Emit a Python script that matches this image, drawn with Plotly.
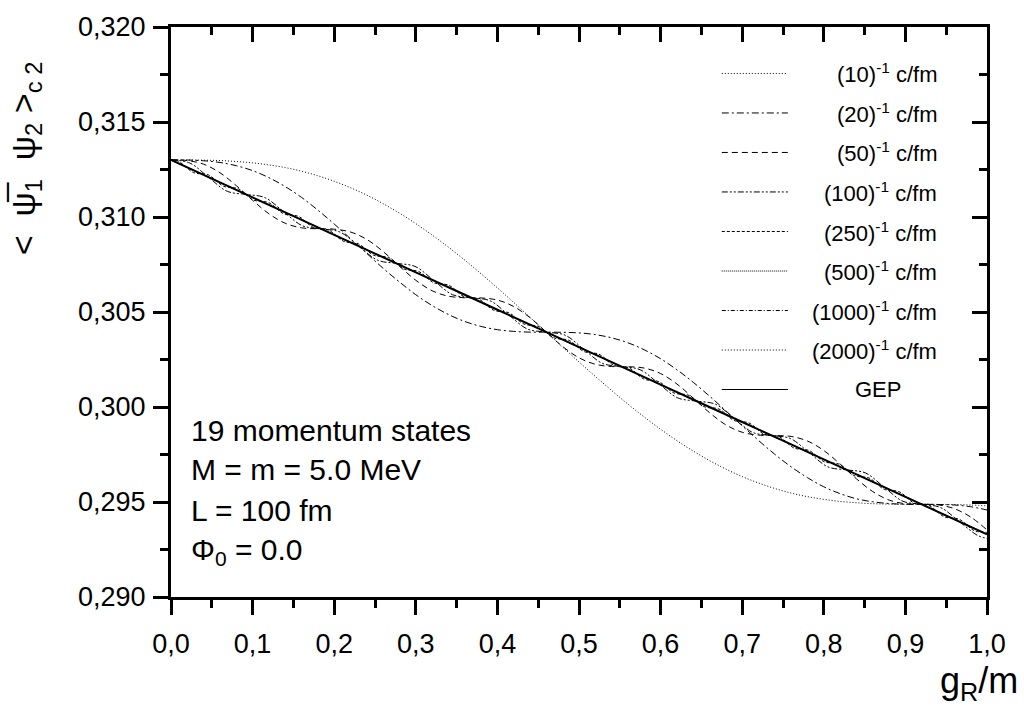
import plotly.graph_objects as go

# coupling axis g_R/m (shared grid for the slowly varying curves)
g_grid = [0.00, 0.02, 0.04, 0.06, 0.08, 0.10, 0.12, 0.14, 0.16, 0.18,
          0.20, 0.22, 0.24, 0.26, 0.28, 0.30, 0.32, 0.34, 0.36, 0.38,
          0.40, 0.42, 0.44, 0.46, 0.48, 0.50, 0.52, 0.54, 0.56, 0.58,
          0.60, 0.62, 0.64, 0.66, 0.68, 0.70, 0.72, 0.74, 0.76, 0.78,
          0.80, 0.82, 0.84, 0.86, 0.88, 0.90, 0.92, 0.94, 0.96, 0.98, 1.00]

cond_10 = [0.31300, 0.31300, 0.31299, 0.31297, 0.31292, 0.31285, 0.31274, 0.31260, 0.31241, 0.31217,
           0.31188, 0.31154, 0.31115, 0.31070, 0.31020, 0.30965, 0.30905, 0.30841, 0.30773, 0.30701,
           0.30627, 0.30550, 0.30472, 0.30394, 0.30315, 0.30237, 0.30161, 0.30087, 0.30015, 0.29947,
           0.29883, 0.29823, 0.29768, 0.29718, 0.29673, 0.29634, 0.29600, 0.29571, 0.29547, 0.29528,
           0.29514, 0.29503, 0.29496, 0.29491, 0.29489, 0.29488, 0.29488, 0.29487, 0.29487, 0.29484, 0.29480]

cond_20 = [0.31300, 0.31300, 0.31296, 0.31287, 0.31270, 0.31244, 0.31207, 0.31160, 0.31103, 0.31036,
           0.30963, 0.30886, 0.30808, 0.30730, 0.30658, 0.30591, 0.30534, 0.30487, 0.30450, 0.30424,
           0.30407, 0.30398, 0.30394, 0.30394, 0.30393, 0.30390, 0.30381, 0.30364, 0.30338, 0.30301,
           0.30254, 0.30196, 0.30130, 0.30057, 0.29980, 0.29901, 0.29824, 0.29751, 0.29685, 0.29628,
           0.29580, 0.29544, 0.29517, 0.29501, 0.29492, 0.29488, 0.29488, 0.29487, 0.29484, 0.29475, 0.29458]

cond_50 = [0.31300, 0.31297, 0.31278, 0.31233, 0.31165, 0.31088, 0.31017, 0.30967, 0.30943, 0.30938,
           0.30936, 0.30921, 0.30882, 0.30818, 0.30741, 0.30667, 0.30612, 0.30583, 0.30575, 0.30574,
           0.30563, 0.30529, 0.30470, 0.30394, 0.30318, 0.30259, 0.30225, 0.30213, 0.30212, 0.30205,
           0.30176, 0.30121, 0.30047, 0.29970, 0.29906, 0.29867, 0.29852, 0.29850, 0.29845, 0.29821,
           0.29771, 0.29700, 0.29622, 0.29555, 0.29510, 0.29491, 0.29488, 0.29485, 0.29465, 0.29421, 0.29353]

g_100 = [0.000, 0.023, 0.046, 0.069, 0.092, 0.115, 0.138, 0.161, 0.184, 0.207,
         0.230, 0.253, 0.276, 0.299, 0.322, 0.345, 0.368, 0.391, 0.414, 0.437,
         0.460, 0.483, 0.506, 0.529, 0.552, 0.575, 0.598, 0.621, 0.644, 0.667,
         0.690, 0.713, 0.736, 0.759, 0.782, 0.805, 0.828, 0.851, 0.874, 0.897,
         0.920, 0.943, 0.966, 0.989, 1.000]
cond_100 = [0.31300, 0.31284, 0.31209, 0.31135, 0.31119, 0.31102, 0.31028, 0.30954, 0.30938, 0.30921,
            0.30847, 0.30773, 0.30756, 0.30740, 0.30666, 0.30591, 0.30575, 0.30559, 0.30484, 0.30410,
            0.30394, 0.30378, 0.30303, 0.30229, 0.30213, 0.30196, 0.30122, 0.30048, 0.30031, 0.30015,
            0.29941, 0.29866, 0.29850, 0.29834, 0.29760, 0.29685, 0.29669, 0.29653, 0.29578, 0.29504,
            0.29488, 0.29471, 0.29397, 0.29323, 0.29309]

g_250 = [0.0000, 0.0092, 0.0276, 0.0460, 0.0644, 0.0828, 0.1012, 0.1196, 0.1380, 0.1564,
         0.1748, 0.1932, 0.2116, 0.2300, 0.2484, 0.2668, 0.2852, 0.3036, 0.3220, 0.3404,
         0.3588, 0.3772, 0.3956, 0.4140, 0.4324, 0.4508, 0.4692, 0.4876, 0.5060, 0.5244,
         0.5428, 0.5612, 0.5796, 0.5980, 0.6164, 0.6348, 0.6532, 0.6716, 0.6900, 0.7084,
         0.7268, 0.7452, 0.7636, 0.7820, 0.8004, 0.8188, 0.8372, 0.8556, 0.8740, 0.8924,
         0.9108, 0.9292, 0.9476, 0.9660, 0.9844, 1.0000]
cond_250 = [0.31300, 0.31293, 0.31234, 0.31221, 0.31162, 0.31148, 0.31089, 0.31076, 0.31017, 0.31003,
            0.30944, 0.30931, 0.30872, 0.30858, 0.30799, 0.30786, 0.30727, 0.30713, 0.30654, 0.30641,
            0.30582, 0.30568, 0.30509, 0.30496, 0.30437, 0.30423, 0.30364, 0.30351, 0.30292, 0.30278,
            0.30219, 0.30206, 0.30147, 0.30133, 0.30074, 0.30061, 0.30002, 0.29989, 0.29929, 0.29916,
            0.29857, 0.29844, 0.29784, 0.29771, 0.29712, 0.29699, 0.29639, 0.29626, 0.29567, 0.29554,
            0.29494, 0.29481, 0.29422, 0.29409, 0.29349, 0.29340]

g_fine = [0.00, 0.05, 0.10, 0.15, 0.20, 0.25, 0.30, 0.35, 0.40, 0.45, 0.50,
          0.55, 0.60, 0.65, 0.70, 0.75, 0.80, 0.85, 0.90, 0.95, 1.00]
cond_500 = [0.31300, 0.31202, 0.31103, 0.31005, 0.30906, 0.30808, 0.30709, 0.30611, 0.30512, 0.30414, 0.30315,
            0.30217, 0.30118, 0.30020, 0.29921, 0.29823, 0.29724, 0.29626, 0.29527, 0.29429, 0.29331]
cond_1000 = [0.31300, 0.31201, 0.31103, 0.31004, 0.30906, 0.30807, 0.30709, 0.30610, 0.30512, 0.30413, 0.30315,
             0.30216, 0.30118, 0.30019, 0.29921, 0.29822, 0.29724, 0.29625, 0.29527, 0.29428, 0.29330]
cond_2000 = [0.31300, 0.31202, 0.31103, 0.31005, 0.30906, 0.30808, 0.30709, 0.30611, 0.30512, 0.30414, 0.30315,
             0.30217, 0.30118, 0.30020, 0.29921, 0.29823, 0.29724, 0.29626, 0.29527, 0.29429, 0.29330]

g_gep = [0.0, 0.1, 0.2, 0.3, 0.4, 0.5, 0.6, 0.7, 0.8, 0.9, 1.0]
cond_gep = [0.31300, 0.31103, 0.30906, 0.30709, 0.30512, 0.30315, 0.30118, 0.29921, 0.29724, 0.29527, 0.29330]

legend_labels = ["(10)<sup>-1</sup> c/fm", "(20)<sup>-1</sup> c/fm", "(50)<sup>-1</sup> c/fm",
                 "(100)<sup>-1</sup> c/fm", "(250)<sup>-1</sup> c/fm", "(500)<sup>-1</sup> c/fm",
                 "(1000)<sup>-1</sup> c/fm", "(2000)<sup>-1</sup> c/fm", "GEP"]

info_lines = ["19 momentum states", "M = m = 5.0 MeV", "L = 100 fm", "Φ<sub>0</sub> = 0.0"]

FONT = "Liberation Sans, Arial, sans-serif"

series = [
    (g_grid, cond_10, "1px,2px", 1.0),
    (g_grid, cond_20, "7px,3px,2px,3px", 1.0),
    (g_grid, cond_50, "6px,4px", 1.0),
    (g_100, cond_100, "6px,2px,2px,2px,2px,2px", 1.0),
    (g_250, cond_250, "3px,2px", 1.0),
    (g_fine, cond_500, "1px,1px", 1.0),
    (g_fine, cond_1000, "4px,2px,1px,2px", 1.0),
    (g_fine, cond_2000, "1px,2px", 1.0),
    (g_gep, cond_gep, "solid", 2.0),
]

fig = go.Figure()
for (xs, ys, dash, w), name in zip(series, legend_labels):
    fig.add_trace(go.Scatter(
        x=xs, y=ys, mode="lines", name=name,
        line=dict(color="black", width=w, dash=dash, shape="spline", smoothing=1.0),
        showlegend=False, hoverinfo="skip",
    ))

# mirrored frame: top and right axes carry inward ticks
fig.add_trace(go.Scatter(x=[None], y=[None], xaxis="x2", yaxis="y2",
                         showlegend=False, hoverinfo="skip"))

axis_common = dict(showline=True, linewidth=3, linecolor="black",
                   showgrid=False, zeroline=False, tickwidth=3, tickcolor="black",
                   ticklen=15)

fig.update_layout(
    width=1024, height=712,
    margin=dict(l=171, r=37, t=20, b=115),
    paper_bgcolor="white", plot_bgcolor="white",
    separators=",.",
    font=dict(family=FONT, color="black"),
    xaxis=dict(range=[0, 1], ticks="outside", dtick=0.1, tick0=0, tickformat=".1f",
               tickfont=dict(size=27, family=FONT), ticklabelstandoff=6,
               minor=dict(dtick=0.05, ticks="outside", ticklen=8, tickwidth=3, tickcolor="black"),
               **axis_common),
    yaxis=dict(range=[0.290, 0.320], ticks="outside", dtick=0.005, tick0=0.29, tickformat=".3f",
               tickfont=dict(size=27, family=FONT), ticklabelstandoff=2,
               minor=dict(dtick=0.0025, ticks="outside", ticklen=8, tickwidth=3, tickcolor="black"),
               **axis_common),
    xaxis2=dict(range=[0, 1], overlaying="x", side="top", ticks="inside", dtick=0.1, tick0=0,
                showticklabels=False,
                minor=dict(dtick=0.05, ticks="inside", ticklen=8, tickwidth=3, tickcolor="black"),
                **axis_common),
    yaxis2=dict(range=[0.290, 0.320], overlaying="y", side="right", ticks="inside", dtick=0.005,
                tick0=0.29, showticklabels=False,
                minor=dict(dtick=0.0025, ticks="inside", ticklen=8, tickwidth=3, tickcolor="black"),
                **axis_common),
)

# hand-built legend: line samples on the left, right-aligned labels
row_y = [0.9185, 0.8492, 0.7799, 0.7106, 0.6412, 0.5719, 0.5026, 0.4333, 0.3640]
for (xs, ys, dash, w), label, yy in zip(series, legend_labels, row_y):
    fig.add_shape(type="line", xref="paper", yref="paper",
                  x0=0.675, x1=0.756, y0=yy, y1=yy,
                  line=dict(color="black", width=1 if dash != "solid" else 1.2, dash=dash))
    if label == "GEP":
        fig.add_annotation(x=0.866, y=yy, xref="paper", yref="paper", text=label,
                           showarrow=False, xanchor="center", yanchor="middle",
                           font=dict(size=22, family=FONT))
    else:
        fig.add_annotation(x=0.941, y=yy, xref="paper", yref="paper", text=label,
                           showarrow=False, xanchor="right", yanchor="middle",
                           font=dict(size=22, family=FONT))

# parameter block
info_y = [0.2929, 0.2236, 0.1525, 0.0800]
for txt, yy in zip(info_lines, info_y):
    fig.add_annotation(x=0.022, y=yy, xref="paper", yref="paper", text=txt,
                       showarrow=False, xanchor="left", yanchor="middle",
                       font=dict(size=30, family=FONT))

# axis titles
fig.add_annotation(x=-0.179, y=0.7695, xref="paper", yref="paper",
                   text="<  \u03c8\u0305<sub>1</sub>  \u03c8<sub>2</sub> ><sub>c 2</sub>",
                   textangle=-90, showarrow=False, xanchor="center", yanchor="middle",
                   font=dict(size=34, family=FONT))
fig.add_annotation(x=1.041, y=-0.150, xref="paper", yref="paper",
                   text="g<sub>R</sub>/m", showarrow=False, xanchor="right", yanchor="middle",
                   font=dict(size=36, family=FONT))

fig.write_html("out.html")
